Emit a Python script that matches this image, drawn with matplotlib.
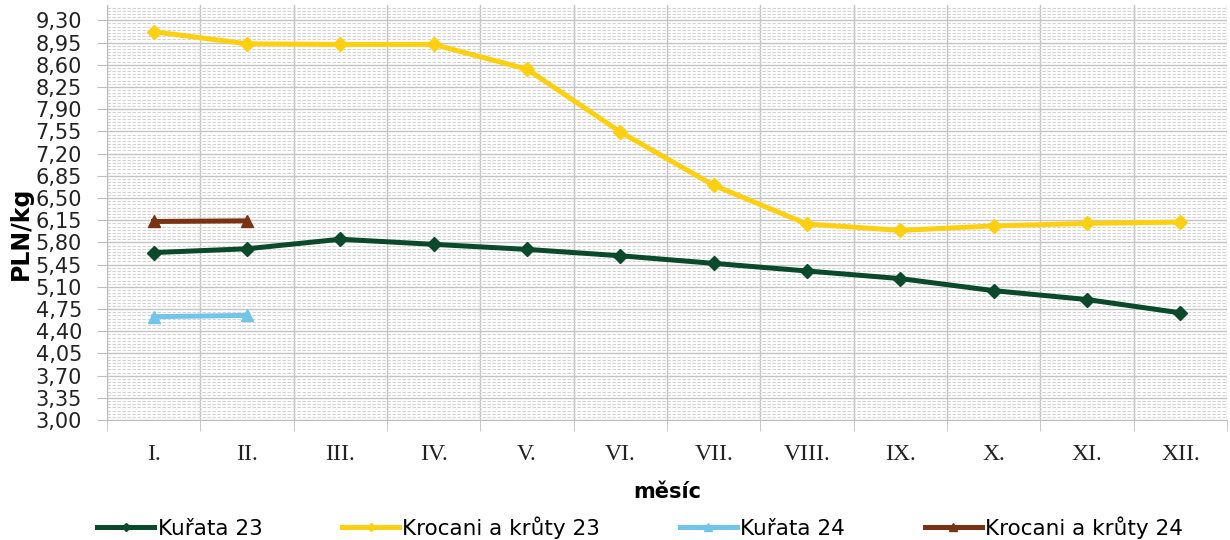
import matplotlib
matplotlib.use("Agg")
import matplotlib.pyplot as plt
from matplotlib.ticker import MultipleLocator, FixedLocator
import numpy as np

months = ['I.', 'II.', 'III.', 'IV.', 'V.', 'VI.', 'VII.', 'VIII.', 'IX.', 'X.', 'XI.', 'XII.']

kurata_23 = [5.64, 5.70, 5.85, 5.77, 5.69, 5.59, 5.47, 5.35, 5.23, 5.04, 4.90, 4.69]
krocani_23 = [9.12, 8.93, 8.92, 8.92, 8.53, 7.54, 6.70, 6.09, 5.99, 6.06, 6.10, 6.12]
kurata_24 = [4.63, 4.65]
krocani_24 = [6.13, 6.14]

fig = plt.figure(figsize=(12.3, 5.4), dpi=100)
ax = fig.add_axes([0.087, 0.222, 0.9106, 0.7686])

x = np.arange(len(months))
ax.plot(x, kurata_23, color='#0a4a2a', lw=3.6, marker='D', ms=7, label='Kuřata 23', zorder=4)
ax.plot(x, krocani_23, color='#ffd010', lw=3.6, marker='D', ms=7, label='Krocani a krůty 23', zorder=4)
ax.plot(x[:2], kurata_24, color='#72c5ea', lw=3.6, marker='^', ms=9, label='Kuřata 24', zorder=4)
ax.plot(x[:2], krocani_24, color='#7a3312', lw=3.6, marker='^', ms=9, label='Krocani a krůty 24', zorder=4)

ax.set_xlim(-0.5, len(months) - 0.5)
ax.set_ylim(3.0, 9.54)

yt = np.arange(3.0, 9.31, 0.35)
ax.yaxis.set_minor_locator(MultipleLocator(0.05))
ax.set_yticks(yt)
ax.set_yticklabels([f'{v:.2f}'.replace('.', ',') for v in yt], fontsize=15, color='#222222')

ax.set_xticks(x)
ax.set_xticklabels(months, fontsize=17, family='Liberation Serif', color='#222222')
ax.xaxis.set_minor_locator(FixedLocator(np.arange(-0.5, len(months), 1.0)))

ax.grid(which='major', axis='y', color='#c4c4c4', lw=1.0)
ax.grid(which='minor', axis='y', color='#d2d2d2', lw=0.8, ls=(0, (3, 1.5)))
ax.grid(which='minor', axis='x', color='#c4c4c4', lw=1.0)
ax.set_axisbelow(True)

ax.tick_params(axis='x', which='major', length=0, pad=17)
ax.tick_params(axis='x', which='minor', length=8, color='#bdbdbd')
ax.tick_params(axis='y', which='major', length=7, color='#bdbdbd', pad=11)
ax.tick_params(axis='y', which='minor', length=0)

for side in ['top', 'right']:
    ax.spines[side].set_visible(False)
ax.spines['left'].set_color('#bdbdbd')
ax.spines['bottom'].set_color('#bdbdbd')

ax.set_ylabel('PLN/kg', fontsize=17, fontweight='bold')
ax.yaxis.set_label_coords(-0.066, 0.45)
ax.set_xlabel('měsíc', fontsize=15, fontweight='bold')
ax.xaxis.set_label_coords(0.5, -0.148)

ax.legend(loc='center', bbox_to_anchor=(0.476, -0.258), ncol=4, frameon=False,
          handlelength=2.65, handletextpad=0.15, columnspacing=3.7, markerscale=0.6,
          prop={'size': 15.5})

fig.savefig('out.png', dpi=100)
